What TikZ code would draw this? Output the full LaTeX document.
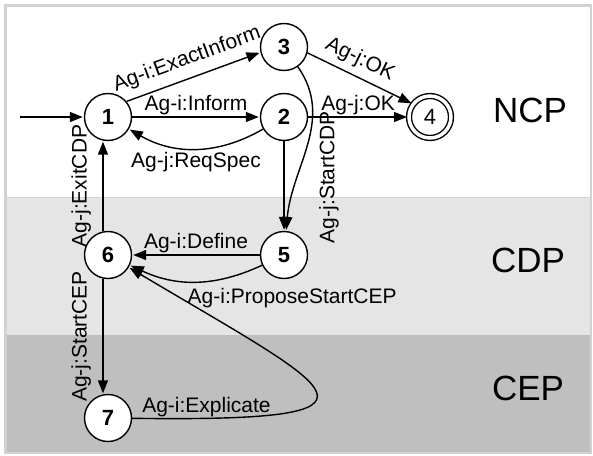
\documentclass[tikz,border=0pt]{standalone}
\usepackage{fontspec}
\setmainfont{Liberation Sans}
\usetikzlibrary{arrows.meta, automata, positioning}
\tikzstyle{automaton}=[shorten >=1pt, >={Triangle[length=13pt,width=10pt]}, initial text=, line width=1.4pt]
\tikzstyle{every state}=[minimum size=47pt, inner sep=0pt, line width=1.4pt, fill=white, font=\fontsize{22}{22}\selectfont\bfseries]
\tikzstyle{accepting}=[accepting by double, double distance=3.5pt, minimum size=42pt]
\tikzstyle{lbl}=[font=\fontsize{21}{21}\selectfont, inner sep=1pt]
\tikzstyle{vlbl}=[lbl, rotate=90, outer sep=3pt]
\tikzstyle{phase}=[font=\fontsize{35}{35}\selectfont]

\begin{document}
\begin{tikzpicture}[automaton, auto, x=1pt, y=1pt, every edge/.append style={lbl}]
  \useasboundingbox (0,0) rectangle (593,-455);
  % phase bands
  \fill[white]   (5,-5)   rectangle (591,-197);
  \fill[gray!20] (5,-197) rectangle (591,-335);
  \fill[gray!50] (5,-335) rectangle (591,-453);
  \draw[gray!35, line width=1pt] (5,-197) -- (591,-197);
  \draw[gray!35, line width=2.5pt] (5.5,-5.5) rectangle (591,-453);
  \node[phase] (ncp) at (530,-110) {NCP};
  \node[phase] (cdp) at (528,-260) {CDP};
  \node[phase] (cep) at (528,-388) {CEP};
  % states
  \node[state,initial,initial distance=64pt] (1) at (108,-117) {1};
  \node[state] (2) at (284,-117) {2};
  \node[state] (3) at (284,-47) {3};
  \node[state,accepting,font=\fontsize{22}{22}\selectfont] (4) at (430,-117) {4};
  \node[state] (5) at (284,-255) {5};
  \node[state] (6) at (108,-255) {6};
  \node[state] (7) at (108,-418) {7};
  % transitions
  \path[->] (1.40) edge node[sloped, pos=0.5, outer sep=8pt] {Ag-i:ExactInform} (3.193);
  \path[->] (1) edge node {Ag-i:Inform} (2);
  \path[->] (2) edge[bend left=30] node[outer sep=3pt] {Ag-j:ReqSpec} (1);
  \path[->] (3.-14) edge node[sloped, pos=0.43, outer sep=6pt] {Ag-j:OK} (4.143);
  \path[->] (2) edge node {Ag-j:OK} (4);
  \path[->] (2) edge (5);
  \path[->] (3) edge[out=-55,in=85] node[vlbl, pos=0.7, anchor=north, outer sep=20pt] {Ag-j:StartCDP} (5);
  \path[->] (6.102) edge node[vlbl, anchor=south, outer sep=11pt] {Ag-j:ExitCDP} (1.258);
  \path[->] (5) edge node[swap] {Ag-i:Define} (6);
  \path[->] (5) edge[bend left=25] node[pos=0.5, anchor=north west, xshift=-10pt, yshift=-5pt] {Ag-i:ProposeStartCEP} (6);
  \path[->] (6.258) edge node[vlbl, anchor=south, outer sep=11pt] {Ag-j:StartCEP} (7.102);
  \draw[->] (7) .. controls (415,-422) and (338,-392) .. node[lbl, pos=0.1, above] {Ag-i:Explicate} (6);
\end{tikzpicture}
\end{document}
